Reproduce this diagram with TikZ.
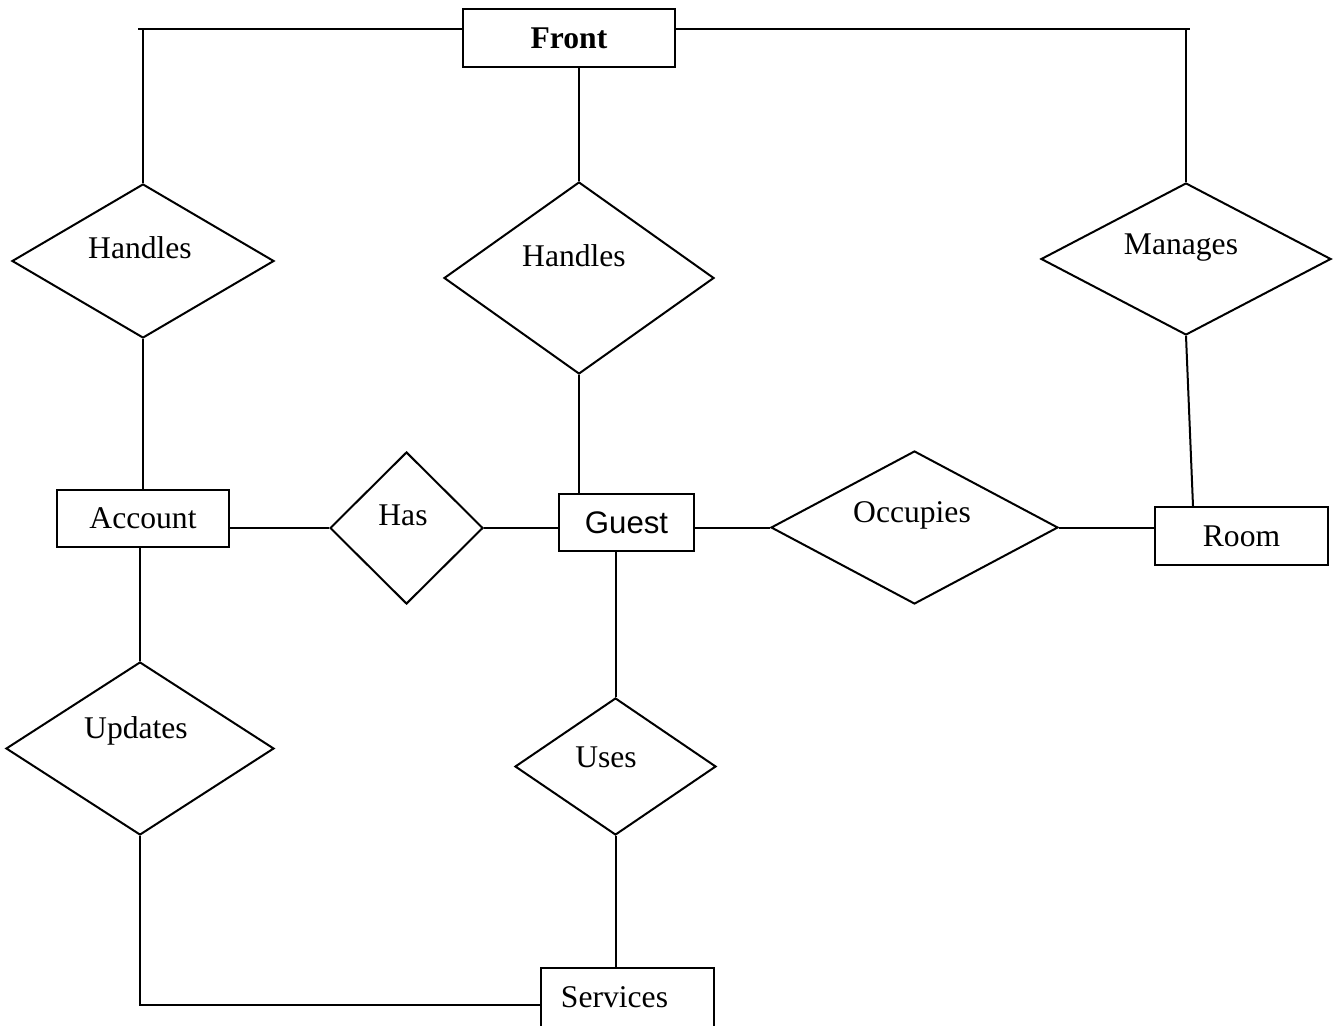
\documentclass[tikz,border=0pt]{standalone}
\usepackage{fontspec}
\setmainfont{Liberation Serif}
\newfontfamily\arialfont{Liberation Sans}
\usetikzlibrary{shapes.geometric}
\begin{document}
\begin{tikzpicture}[x=0.5pt,y=-0.5pt,
  every node/.style={font=\fontsize{15.8}{19}\selectfont},
  ln/.style={line width=1pt},
  ent/.style={draw,line width=1pt,inner sep=0pt,rectangle},
  rel/.style={draw,line width=1pt,inner sep=0pt,diamond,shape aspect=1}
]
\clip (0,0) rectangle (1333,1026);
\fill[white] (0,0) rectangle (1333,1026);
% entities
\node[ent,minimum width=106pt,minimum height=29pt,font=\fontsize{15.8}{19}\selectfont\bfseries] (front) at (569,38) {Front};
\node[ent,minimum width=86pt,minimum height=28.5pt] (acc) at (143,518.5) {Account};
\node[ent,minimum width=67.5pt,minimum height=28.5pt,font=\fontsize{15.6}{19}\arialfont] (guest) at (626.5,522.5) {Guest};
\node[ent,minimum width=86.5pt,minimum height=29pt] (room) at (1241.5,536) {Room};
\node[ent,minimum width=86.5pt,minimum height=60pt,label={[anchor=center,xshift=-6.5pt,yshift=-15pt]north:Services}] (svc) at (627.5,1028) {};
% relationships
\node[rel,minimum width=131pt,minimum height=77pt,label={[xshift=-1.5pt,yshift=6.5pt]center:Handles}] (h1) at (143,261) {};
\node[rel,minimum width=135pt,minimum height=96pt,label={[xshift=-2.5pt,yshift=11pt]center:Handles}] (h2) at (579,278) {};
\node[rel,minimum width=145pt,minimum height=76pt,label={[xshift=-2.5pt,yshift=5.5pt]center:Manages}] (man) at (1186,259) {};
\node[rel,minimum width=76.5pt,minimum height=76pt,label={[xshift=-1.75pt,yshift=6.5pt]center:Has}] (has) at (406.5,528) {};
\node[rel,minimum width=143.5pt,minimum height=76.5pt,label={[xshift=-1.25pt,yshift=6.25pt]center:Occupies}] (occ) at (914.5,527.5) {};
\node[rel,minimum width=134pt,minimum height=86.5pt,label={[xshift=-2pt,yshift=8.75pt]center:Updates}] (upd) at (140,748.5) {};
\node[rel,minimum width=100.5pt,minimum height=68.5pt,label={[xshift=-4.75pt,yshift=4.75pt]center:Uses}] (uses) at (615.5,766.5) {};
% helper coordinates
\coordinate (tl) at (138,29);
\coordinate (tr) at (1190,29);
\coordinate (bl) at (0,1005);
% connectors
\draw[ln] (h1.north) -- (h1.north |- tl);
\draw[ln] (tl) -- (front.west |- tl);
\draw[ln] (front.east |- tr) -- (tr);
\draw[ln] (man.north) -- (man.north |- tr);
\draw[ln] (h2.north) -- (h2.north |- front.south);
\draw[ln] (h1.south) -- (h1.south |- acc.north);
\draw[ln] (man.south) -- ([xshift=-24.25pt]room.north);
\draw[ln] (has.west) -- (has.west -| acc.east);
\draw[ln] (has.east) -- (has.east -| guest.west);
\draw[ln] (h2.south) -- (h2.south |- guest.north);
\draw[ln] (occ.west) -- (occ.west -| guest.east);
\draw[ln] (occ.east) -- (occ.east -| room.west);
\draw[ln] (upd.north) -- (upd.north |- acc.south);
\draw[ln] (uses.north) -- (uses.north |- guest.south);
\draw[ln] (upd.south) |- (svc.west |- bl);
\draw[ln] (uses.south) -- (uses.south |- svc.north);
\end{tikzpicture}
\end{document}
